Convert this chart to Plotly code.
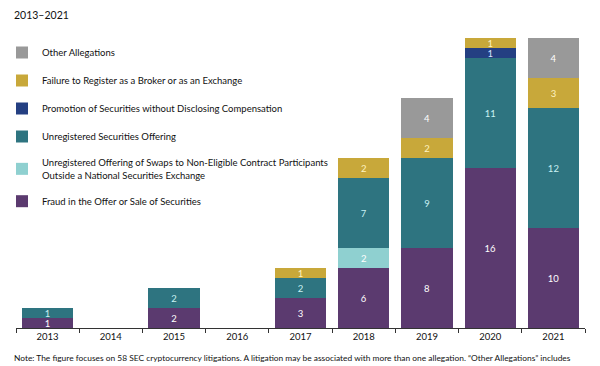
import plotly.graph_objects as go

years = ["2013", "2014", "2015", "2016", "2017", "2018", "2019", "2020", "2021"]

fraud = [1, None, 2, None, 3, 6, 8, 16, 10]
swaps = [None, None, None, None, None, 2, None, None, None]
unregistered = [1, None, 2, None, 2, 7, 9, 11, 12]
promotion = [None, None, None, None, None, None, None, 1, None]
failure = [None, None, None, None, 1, 2, 2, 1, 3]
other = [None, None, None, None, None, None, 4, None, 4]

series = [
    ("Fraud in the Offer or Sale of Securities", fraud, "#5b3a6f", "#ffffff"),
    ("Unregistered Offering of Swaps to Non-Eligible Contract Participants<br>Outside a National Securities Exchange", swaps, "#8fd0d0", "#ffffff"),
    ("Unregistered Securities Offering", unregistered, "#2e7480", "#c9f1f3"),
    ("Promotion of Securities without Disclosing Compensation", promotion, "#243f82", "#d8e4ff"),
    ("Failure to Register as a Broker or as an Exchange", failure, "#c8a83a", "#fff3c0"),
    ("Other Allegations", other, "#999999", "#ffffff"),
]

font_family = "Lato, 'Open Sans', sans-serif"

fig = go.Figure()
n = len(series)
for i, (name, vals, color, tcolor) in enumerate(series):
    fig.add_trace(go.Bar(
        x=years, y=vals, name=name,
        marker=dict(color=color, line=dict(width=0)),
        text=[str(v) if v else "" for v in vals],
        textposition="inside", insidetextanchor="middle",
        textangle=0,
        textfont=dict(color=tcolor, size=9.5, family=font_family),
        legendgroup="g%d" % i,
        legendrank=n - i,
        hoverinfo="skip",
    ))

fig.update_layout(
    barmode="stack",
    bargap=0.19,
    width=600, height=366,
    margin=dict(l=16, r=15, t=38, b=38, autoexpand=False),
    paper_bgcolor="white", plot_bgcolor="white",
    font=dict(family=font_family, size=10, color="#111111"),
    uniformtext=dict(minsize=9.5, mode="show"),
    showlegend=True,
    legend=dict(
        x=-14 / 569, xanchor="left", y=1.0, yanchor="top",
        traceorder="grouped",
        tracegroupgap=9,
        font=dict(size=9.5, family=font_family, color="#111111"),
        bgcolor="rgba(0,0,0,0)",
        itemwidth=30,
    ),
    xaxis=dict(
        type="category", showgrid=False,
        showline=True, linecolor="#333333", linewidth=1,
        ticks="outside", tickson="boundaries", ticklen=4, tickcolor="#333333",
        tickfont=dict(size=9.5, family=font_family, color="#111111"),
    ),
    yaxis=dict(range=[0, 29], visible=False, showgrid=False, fixedrange=True),
    annotations=[
        dict(text="2013–2021", xref="paper", yref="paper",
             x=-4 / 569, y=1 + (38 - 15) / 290, xanchor="left", yanchor="middle",
             showarrow=False, font=dict(size=10.5, family=font_family, color="#111111")),
        dict(text="Note: The figure focuses on 58 SEC cryptocurrency litigations. A litigation may be associated with more than one allegation. “Other Allegations” includes",
             xref="paper", yref="paper",
             x=-4 / 569, y=-(358 - 328) / 290, xanchor="left", yanchor="middle",
             showarrow=False, font=dict(size=8.4, family=font_family, color="#111111")),
    ],
)

fig.write_html("out.html", config={"displayModeBar": False},
               post_script="document.body.style.margin='0';")
